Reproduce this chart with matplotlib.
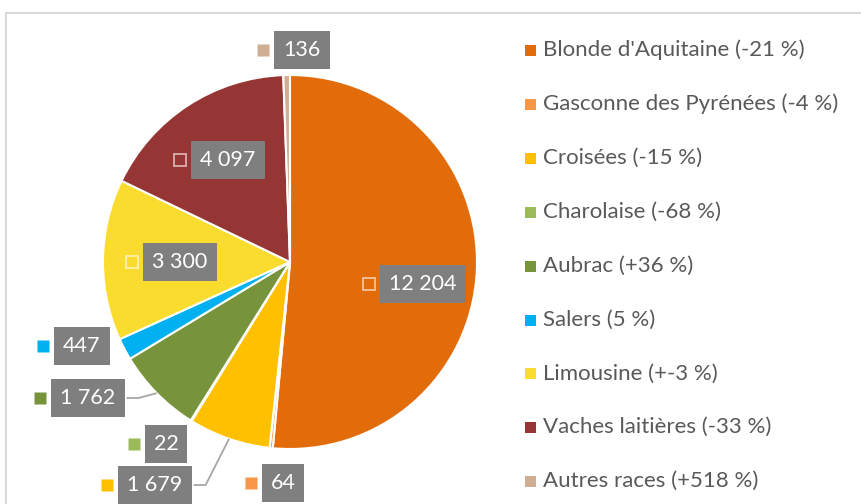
import matplotlib.pyplot as plt
from matplotlib.lines import Line2D
from matplotlib.patches import Rectangle
import numpy as np

breeds = ["Blonde d'Aquitaine", "Gasconne des Pyrénées", "Croisées", "Charolaise",
          "Aubrac", "Salers", "Limousine", "Vaches laitières", "Autres races"]
changes = ["-21 %", "-4 %", "-15 %", "-68 %", "+36 %", "5 %", "+-3 %", "-33 %", "+518 %"]
heads = [12204, 64, 1679, 22, 1762, 447, 3300, 4097, 136]
colors = ["#E36C0A", "#F79646", "#FFC000", "#9BBB59", "#77933C",
          "#00B0F0", "#F9DC2E", "#963634", "#CFAE93"]

# label box centres (pixels) and whether the label sits inside the slice
label_px = [(423, 284), (283, 483), (155, 485), (166, 444), (88, 398),
            (82, 346), (180, 262), (228, 160), (302, 50)]
inside = [True, False, False, False, False, False, True, True, False]
leader = [False, False, True, False, True, False, False, False, False]

plt.rcParams['font.family'] = ['Lato', 'DejaVu Sans']

W, H = 862, 504
cx, cy, R = 290, 262, 187
fig = plt.figure(figsize=(W / 100, H / 100), dpi=100)
ax = fig.add_axes([0, 0, 1, 1])
ax.pie(heads, colors=colors, startangle=90, counterclock=False, radius=1,
       wedgeprops=dict(edgecolor='white', linewidth=1.5))
ax.set_xlim(-cx / R, (W - cx) / R)
ax.set_ylim(-(H - cy) / R, cy / R)
ax.set_aspect('equal')
ax.axis('off')
renderer = fig.canvas.get_renderer()

total = sum(heads)
cum = np.cumsum([0] + heads)
for i, v in enumerate(heads):
    bxc, byc = label_px[i]
    lx, ly = (bxc - cx) / R, (cy - byc) / R
    txt = f"{v:,}".replace(",", " ")
    t = ax.text(lx, ly, txt, ha='center', va='center', color='white', fontsize=15.5, zorder=6)
    tw = t.get_window_extent(renderer).width
    bw = tw + 18
    left = bxc - bw / 2
    ax.add_patch(Rectangle(((left - cx) / R, (cy - byc - 19) / R), bw / R, 38 / R,
                           fc='#7F7F7F', ec='none', zorder=5, clip_on=False))
    mx = (left - 11 - cx) / R
    if inside[i]:
        ax.plot(mx, ly, marker='s', ms=8.5, mfc='none', mec=(1, 1, 1, 0.6), mew=1.3, zorder=5)
    else:
        ax.plot(mx, ly, marker='s', ms=8.5, mfc=colors[i], mec='none', zorder=5, clip_on=False)
    if leader[i]:
        mid = 2 * np.pi * (cum[i] + v / 2) / total
        ex, ey = np.sin(mid), np.cos(mid)
        bx = (left + bw + 2 - cx) / R
        kx = bx + 12 / R
        ax.plot([bx, kx, ex], [ly, ly, ey], color='#A6A6A6', lw=1.3, zorder=4,
                solid_capstyle='butt')

# legend
for i, name in enumerate(breeds):
    y = 50 + i * 53.9
    fy = 1 - y / H
    fig.patches.append(Rectangle((525 / W, fy - 6 / H), 11 / W, 11 / H,
                                 transform=fig.transFigure, fc=colors[i], ec='none'))
    fig.text(543 / W, fy, f"{name} ({changes[i]})", ha='left', va='center',
             color='#595959', fontsize=16)

# chart frame (partly cropped)
fig.add_artist(Line2D([6 / W, 1], [1 - 13 / H, 1 - 13 / H], color='#D9D9D9', lw=1.5))
fig.add_artist(Line2D([6 / W, 6 / W], [1 - 13 / H, 0], color='#D9D9D9', lw=1.5))

fig.savefig('out.png', dpi=100)
